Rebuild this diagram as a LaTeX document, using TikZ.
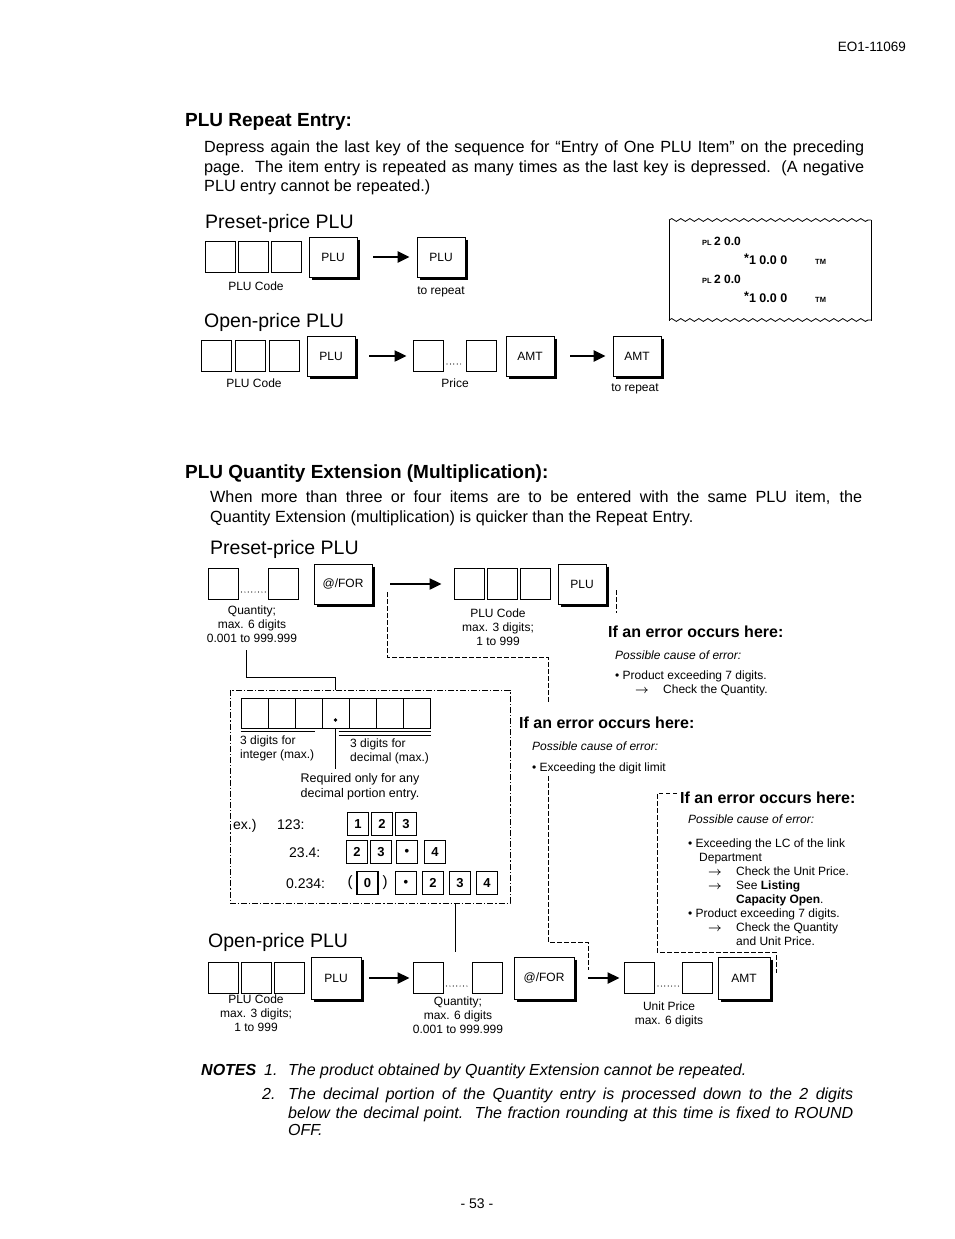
\documentclass[tikz,border=0pt]{standalone}
\usepackage{fontspec}
\setmainfont{Liberation Sans}
\usetikzlibrary{arrows.meta,positioning,calc,decorations.pathmorphing}
\newcommand{\fs}[2]{\fontsize{#1}{#2}\selectfont}
\newcommand{\lns}[1]{\begin{tabular}[t]{@{}l@{}}#1\end{tabular}}
\newcommand{\clns}[1]{\begin{tabular}[t]{@{}c@{}}#1\end{tabular}}
\newcommand{\chk}{\makebox[48pt][l]{\hspace*{20pt}$\boldsymbol{\rightarrow}$}}
\usepackage{amsmath}

\begin{document}
\begin{tikzpicture}[x=1pt,y=-1pt,
  sq/.style={draw,line width=1pt,minimum width=30pt,minimum height=31pt,inner sep=0pt},
  key/.style={draw,fill=white,line width=0.9pt,minimum width=48pt,minimum height=40pt,inner sep=0pt,
    font=\fs{12}{14}},
  keyedge/.style={line width=2.6pt},
  dig/.style={draw,line width=1.4pt,minimum width=21pt,minimum height=23pt,inner sep=0pt,font=\bfseries\fs{13}{15}},
  flow/.style={line width=2.4pt,-{Triangle[length=12pt,width=11pt]}},
  dots/.style={line width=1.2pt,line cap=round,dash pattern=on 0pt off 3.4pt,shorten <=3pt,shorten >=2pt},
  errln/.style={line width=0.8pt,dash pattern=on 4.5pt off 2.5pt},
  ddbox/.style={line width=0.8pt,dash pattern=on 6pt off 2pt on 1.2pt off 2pt},
  lbl/.style={font=\fs{12}{14},inner sep=0pt},
  sml/.style={font=\fs{12}{14},inner sep=0pt},
  hd/.style={font=\bfseries\fs{19}{22},anchor=base west,inner sep=0pt},
  sub/.style={font=\fs{19.5}{22},anchor=base west,inner sep=0pt},
  body/.style={font=\fs{16.2}{19},anchor=base west,inner sep=0pt},
  errhd/.style={font=\bfseries\fs{16}{18},anchor=base west,inner sep=0pt},
  cause/.style={font=\fs{12}{14},anchor=base west,inner sep=0pt},
  note/.style={font=\itshape\fs{16}{18},anchor=base west,inner sep=0pt}
]
\useasboundingbox (0,0) rectangle (954,1239);

\node[font=\fs{13.5}{15},anchor=base east,inner sep=0pt] (docno) at (906,52) {EO1-11069};

% ================= repeat entry =================
\node[hd] (hd1) at (185,126) {PLU Repeat Entry:};
\node[body] (pa1) at (204,152) {\makebox[660pt][s]{Depress again the last key of the sequence for “Entry of One PLU Item” on the preceding}};
\node[body] (pa2) at (204,172) {\makebox[660pt][s]{page.\ \ The item entry is repeated as many times as the last key is depressed.\ \ (A negative}};
\node[body] (pa3) at (204,191) {PLU entry cannot be repeated.)};

\node[sub] (pre1) at (205,228) {Preset-price PLU};
\node[sq] (a1) at (220,257) {};
\node[sq] (a2) at (253,257) {};
\node[sq] (a3) at (286,257) {};
\node[key] (aplu) at (333,257) {PLU};
\node[key] (aplur) at (441,257) {PLU};
\draw[flow,shorten <=16pt,shorten >=7pt] (aplu) -- (aplur);
\node[lbl] (acode) at (256,286) {PLU Code};
\node[lbl] (arep) at (441,292) {to repeat};

\node[sub] (opn1) at (204,327) {Open-price PLU};
\node[sq] (b1) at (216.5,356) {};
\node[sq] (b2) at (250.5,356) {};
\node[sq] (b3) at (284.5,356) {};
\node[key] (bplu) at (331,356) {PLU};
\node[sq] (bp1) at (428.5,356) {};
\node[sq] (bp2) at (481,356) {};
\node[key] (bamt) at (530,356) {AMT};
\node[key] (bamtr) at (637,356) {AMT};
\draw[flow,shorten <=14pt,shorten >=6.5pt] (bplu) -- (bp1);
\draw[dots] ([yshift=-8pt]bp1.east) -- ([yshift=-8pt]bp2.west);
\draw[flow,shorten <=16pt,shorten >=7pt] (bamt) -- (bamtr);
\node[lbl] (bcode) at (254,383) {PLU Code};
\node[lbl] (bprice) at (455,383) {Price};
\node[lbl] (brep) at (635,389) {to repeat};

% receipt
\draw[line width=0.8pt] (669,220) -- (669,321);
\draw[line width=0.8pt] (871,220) -- (871,321);
\draw[line width=0.8pt,decorate,decoration={snake,segment length=9pt,amplitude=1.4pt}] (669,220) -- (871,220);
\draw[line width=0.8pt,decorate,decoration={snake,segment length=9pt,amplitude=1.4pt}] (669,320) -- (871,320);
\foreach \y/\n in {245/1,283/2}{
  \node[font=\bfseries\fs{7.5}{9},anchor=base west,inner sep=0pt] (pl\n) at (702,\y) {PL};
  \node[font=\bfseries\fs{12}{14},anchor=base west,inner sep=0pt] (pv\n) at (714,\y) {2 0.0};
  \node[font=\bfseries\fs{12.5}{14},anchor=base west,inner sep=0pt] (tv\n) at (744,\y+19) {\raisebox{2pt}{*}1 0.0 0};
  \node[font=\bfseries\fs{7.5}{9},anchor=base west,inner sep=0pt] (tm\n) at (815,\y+19) {TM};
}

% ================= quantity extension =================
\node[hd] (hd2) at (185,478) {PLU Quantity Extension (Multiplication):};
\node[body] (pb1) at (210,502) {\makebox[652pt][s]{When more than three or four items are to be entered with the same PLU item, the}};
\node[body] (pb2) at (210,522) {Quantity Extension (multiplication) is quicker than the Repeat Entry.};

\node[sub] (pre2) at (210,554) {Preset-price PLU};
\node[sq] (q1) at (223,584) {};
\node[sq] (q2) at (283,584) {};
\draw[dots] ([yshift=-8pt]q1.east) -- ([yshift=-8pt]q2.west);
\node[key,minimum width=58pt] (qfor) at (343,584) {@/FOR};
\node[sq] (c1) at (469,584) {};
\node[sq] (c2) at (502,584) {};
\node[sq] (c3) at (535.5,584) {};
\node[key] (cplu) at (582,584) {PLU};
\draw[flow,shorten <=18pt,shorten >=12pt] (qfor) -- (c1);
\node[sml,anchor=base] (qlab) at (252,614) {\clns{Quantity;\\max. 6 digits\\0.001 to 999.999}};
\node[sml,anchor=base] (clab) at (498,617) {\clns{PLU Code\\max. 3 digits;\\1 to 999}};

% error 1
\coordinate (e0a) at (616,590);
\coordinate (e0b) at (616,613);
\draw[errln] (e0a) -- (e0b);
\node[errhd] (eh1) at (608,637) {If an error occurs here:};
\node[cause,font=\itshape\fs{12}{14}] (ec1) at (615,659) {Possible cause of error:};
\node[cause] (et1) at (615,679) {\lns{\textbullet\ Product exceeding 7 digits.\\\chk Check the Quantity.}};

% path to error 2
\coordinate (e1a) at (387,592);
\coordinate (e1b) at (387,657);
\coordinate (e1c) at (548,657);
\coordinate (e1d) at (548,703);
\draw[errln] (e1a) -- (e1b) -- (e1c) -- (e1d);
\node[errhd] (eh2) at (519,728) {If an error occurs here:};
\node[cause,font=\itshape\fs{12}{14}] (ec2) at (532,750) {Possible cause of error:};
\node[cause] (et2) at (532,771) {\textbullet\ Exceeding the digit limit};
\coordinate (e2a) at (548,776);
\coordinate (e2b) at (548,942);
\coordinate (e2c) at (588,942);
\coordinate (e2d) at (588,970);
\draw[errln] (e2a) -- (e2b) -- (e2c) -- (e2d);

% error 3
\coordinate (e3a) at (677,793);
\coordinate (e3b) at (657,793);
\coordinate (e3c) at (657,952);
\coordinate (e3d) at (776,952);
\coordinate (e3e) at (776,973);
\draw[errln] (e3a) -- (e3b) -- (e3c) -- (e3d) -- (e3e);
\node[errhd] (eh3) at (680,803) {If an error occurs here:};
\node[cause,font=\itshape\fs{12}{14}] (ec3) at (688,823) {Possible cause of error:};
\node[cause] (et3) at (688,847) {\lns{\textbullet\ Exceeding the LC of the link\\
  \hspace*{11pt}Department\\
  \chk Check the Unit Price.\\
  \chk See \textbf{Listing}\\
  \hspace*{48pt}\textbf{Capacity Open}.\\
  \textbullet\ Product exceeding 7 digits.\\
  \chk Check the Quantity\\
  \hspace*{48pt}and Unit Price.}};

% decimal entry box
\coordinate (l1a) at (246,650);
\coordinate (l1b) at (246,677);
\coordinate (l1c) at (335,677);
\coordinate (l1d) at (335,690);
\draw[line width=0.9pt] (l1a) -- (l1b) -- (l1c) -- (l1d);
\draw[ddbox] (230,690) rectangle (510,903);
\foreach \i in {1,...,7}
  \node[sq,minimum width=27pt,minimum height=30pt] (d\i) at ({227.5+27*\i},713) {};
\fill ([yshift=-7pt]d4.center) circle (1.8pt);
\draw[line width=0.8pt] ([yshift=-3pt]d1.south west) -- ([yshift=-3pt,xshift=-8pt]d3.south east);
\draw[line width=0.8pt] ([yshift=-3pt,xshift=-10pt]d5.south west) -- ([yshift=-3pt]d7.south east);
\draw[line width=0.8pt] ([yshift=-7pt,xshift=-10pt]d5.south west) -- ([yshift=-7pt]d7.south east);
\draw[line width=0.9pt] (d4.south) -- ++(0,40);
\node[sml,anchor=base west] (int) at (240,744) {\lns{3 digits for\\integer (max.)}};
\node[sml,anchor=base west] (dec) at (350,747) {\lns{3 digits for\\decimal (max.)}};
\node[sml,font=\fs{12.5}{15},anchor=base] (req) at (360,782) {\clns{Required only for any\\decimal portion entry.}};

\node[font=\fs{14}{16},anchor=base west,inner sep=0pt] (exl) at (233,829) {ex.)};
\node[font=\fs{14}{16},anchor=base west,inner sep=0pt] (x1) at (277,829) {123:};
\node[dig] (r11) at (358,824) {1};
\node[dig] (r12) at (382,824) {2};
\node[dig] (r13) at (406,824) {3};
\node[font=\fs{14}{16},anchor=base west,inner sep=0pt] (x2) at (289,857) {23.4:};
\node[dig] (r21) at (357,852) {2};
\node[dig] (r22) at (381,852) {3};
\node[dig] (r23) at (407,852) {\raisebox{-5pt}{\textbullet}};
\node[dig] (r24) at (435,852) {4};
\node[font=\fs{14}{16},anchor=base west,inner sep=0pt] (x3) at (286,888) {0.234:};
\node[font=\fs{15}{17},inner sep=0pt] (lp) at (350,883) {(};
\node[dig] (r30) at (367.5,883) {0};
\node[font=\fs{15}{17},inner sep=0pt] (rp) at (385,883) {)};
\node[dig] (r31) at (406,883) {\raisebox{-5pt}{\textbullet}};
\node[dig] (r32) at (433,883) {2};
\node[dig] (r33) at (460,883) {3};
\node[dig] (r34) at (487,883) {4};

\coordinate (l2a) at (455,903);
\coordinate (l2b) at (455,952);
\draw[line width=0.9pt] (l2a) -- (l2b);

% open-price row
\node[sub] (opn2) at (208,947) {Open-price PLU};
\node[sq] (f1) at (223.5,978) {};
\node[sq] (f2) at (256.5,978) {};
\node[sq] (f3) at (289,978) {};
\node[key,minimum width=50pt,minimum height=42pt] (fplu) at (336,978) {PLU};
\node[sq] (g1) at (428,978) {};
\node[sq] (g2) at (487,978) {};
\node[key,minimum width=60pt,minimum height=42pt] (gfor) at (544,978) {@/FOR};
\node[sq] (u1) at (639.5,978) {};
\node[sq] (u2) at (697.5,978) {};
\node[key,minimum width=52pt,minimum height=42pt] (uamt) at (744,978) {AMT};
\draw[flow,shorten <=8pt,shorten >=3pt] (fplu) -- (g1);
\draw[dots] ([yshift=-8pt]g1.east) -- ([yshift=-8pt]g2.west);
\draw[flow,shorten <=14pt,shorten >=4.5pt] (gfor) -- (u1);
\draw[dots] ([yshift=-8pt]u1.east) -- ([yshift=-8pt]u2.west);
\node[sml,anchor=base] (flab) at (256,1003) {\clns{PLU Code\\max. 3 digits;\\1 to 999}};
\node[sml,anchor=base] (glab) at (458,1005) {\clns{Quantity;\\max. 6 digits\\0.001 to 999.999}};
\node[sml,anchor=base] (ulab) at (669,1010) {\clns{Unit Price\\max. 6 digits}};

% heavy right and bottom edges of the keys
\foreach \k in {aplu,aplur,bplu,bamt,bamtr,qfor,cplu,fplu,gfor,uamt}
  \draw[keyedge] ([xshift=1pt,yshift=-3pt]\k.north east) -- ([xshift=1pt,yshift=-1pt]\k.south east)
    -- ([xshift=3pt,yshift=-1pt]\k.south west);

% ================= notes =================
\node[note,font=\bfseries\itshape\fs{16}{18}] (nt) at (201,1075) {NOTES};
\node[note] (n1) at (264,1075) {1.};
\node[note] (n1t) at (288,1075) {The product obtained by Quantity Extension cannot be repeated.};
\node[note] (n2) at (262,1099) {2.};
\node[note] (n2a) at (288,1099) {\makebox[565pt][s]{The decimal portion of the Quantity entry is processed down to the 2 digits}};
\node[note] (n2b) at (288,1118) {\makebox[565pt][s]{below the decimal point.\ \ The fraction rounding at this time is fixed to ROUND}};
\node[note] (n2c) at (288,1135) {OFF.};

\node[font=\fs{14}{16},inner sep=0pt] (pg) at (477,1204) {- 53 -};
\end{tikzpicture}
\end{document}
